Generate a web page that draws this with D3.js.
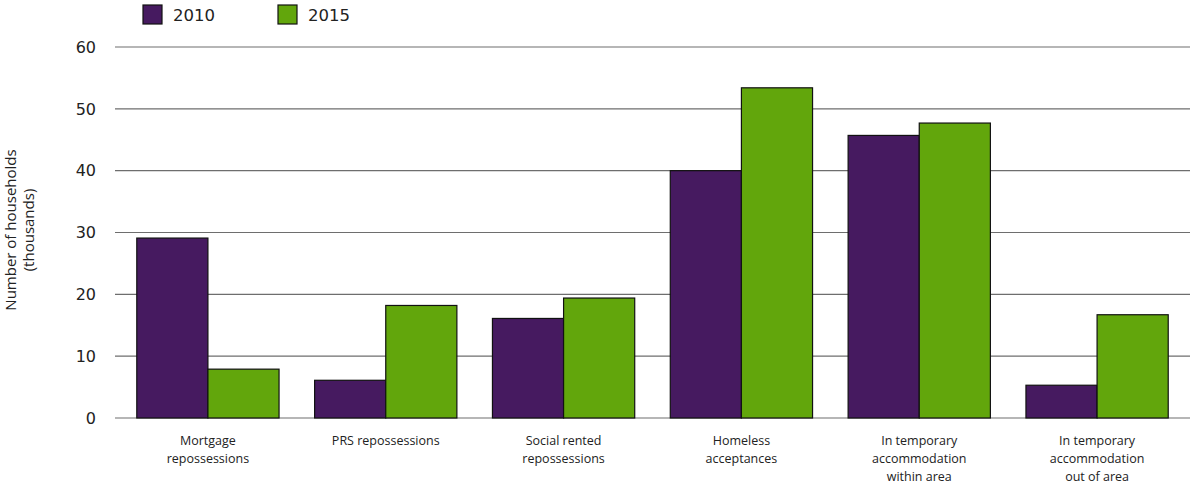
<!DOCTYPE html>
<html><head><meta charset="utf-8">
<script src="https://cdn.jsdelivr.net/npm/d3@7"></script>
<style>body{margin:0;background:#fff;} svg{display:block;font-family:"Open Sans",sans-serif;}</style>
</head><body>
<svg id="c" width="1190" height="484"></svg>
<script>
const categories = [
  ["Mortgage","repossessions"],
  ["PRS repossessions"],
  ["Social rented","repossessions"],
  ["Homeless","acceptances"],
  ["In temporary","accommodation","within area"],
  ["In temporary","accommodation","out of area"]
];
const series = ["2010","2015"];
const values2010 = [29.1, 6.1, 16.1, 40.0, 45.7, 5.3];
const values2015 = [7.9, 18.2, 19.4, 53.4, 47.7, 16.7];
const yTicks = [0,10,20,30,40,50,60];
const colors = ["#461a60","#62a60c"];

const svg = d3.select("#c");
const y = d3.scaleLinear().domain([0,60]).range([418,47]);
const x0 = d3.scaleBand().domain(d3.range(categories.length)).range([119,1186]).paddingInner(0.2).paddingOuter(0.1);
const x1 = d3.scaleBand().domain(series).range([0,x0.bandwidth()]);

// gridlines
svg.append("g").selectAll("line").data(yTicks).join("line")
  .attr("x1",115).attr("x2",1190)
  .attr("y1",d=>y(d)).attr("y2",d=>y(d))
  .attr("stroke","#6e6e6e").attr("stroke-width",1.2);
// y tick labels
svg.append("g").selectAll("text").data(yTicks).join("text")
  .attr("x",96).attr("y",d=>y(d)).attr("dy","0.36em")
  .attr("text-anchor","end").attr("font-size",16).attr("fill","#222")
  .attr("font-family","'DejaVu Sans',sans-serif")
  .text(d=>d);
// y title
svg.append("text").attr("transform","translate(16,230) rotate(-90)")
  .attr("text-anchor","middle").attr("font-size",15).attr("fill","#222")
  .selectAll("tspan").data(["Number of households","(thousands)"]).join("tspan")
  .attr("x",0).attr("dy",(d,i)=>i?"18":0).text(d=>d);

const data = [values2010, values2015];
const g = svg.append("g");
categories.forEach((c,i)=>{
  series.forEach((s,j)=>{
    const v = data[j][i];
    g.append("rect")
      .attr("x",x0(i)+x1(s)).attr("width",x1.bandwidth())
      .attr("y",y(v)).attr("height",y(0)-y(v))
      .attr("fill",colors[j]).attr("stroke","#111").attr("stroke-width",1.2);
  });
  svg.append("text").attr("text-anchor","middle").attr("font-size",12.5).attr("fill","#222")
    .selectAll("tspan").data(c).join("tspan")
    .attr("x",x0(i)+x0.bandwidth()/2).attr("y",(d,k)=>445+k*18).text(d=>d);
});

// legend
const lg = svg.append("g");
series.forEach((s,j)=>{
  const lx = 143 + j*135;
  lg.append("rect").attr("x",lx).attr("y",5).attr("width",19).attr("height",19)
    .attr("fill",colors[j]).attr("stroke","#111").attr("stroke-width",1.2);
  lg.append("text").attr("x",lx+30).attr("y",20.5).attr("font-size",16.5).attr("fill","#222")
    .attr("font-family","'DejaVu Sans',sans-serif").text(s);
});
</script>
</body></html>
